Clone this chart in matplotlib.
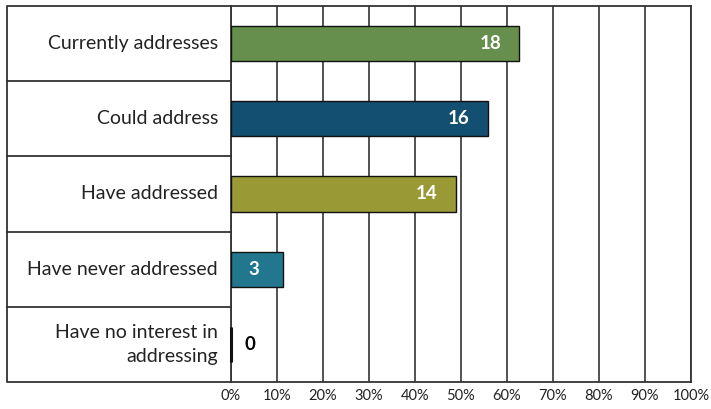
import matplotlib.pyplot as plt
import matplotlib.transforms as mtransforms
import numpy as np

plt.rcParams["font.family"] = ["Lato", "DejaVu Sans"]

categories = [
    "Currently addresses",
    "Could address",
    "Have addressed",
    "Have never addressed",
    "Have no interest in\naddressing",
]
counts = [18, 16, 14, 3, 0]
percents = [62.7, 55.9, 48.9, 11.3, 0.0]
colors = ["#668f4d", "#134f70", "#999a36", "#22778f", "#22778f"]
ticks = np.arange(0, 101, 10)
tick_labels = [f"{t}%" for t in ticks]

LINE = "#333333"
W, H = 711, 409

fig = plt.figure(figsize=(W / 100, H / 100), dpi=100)
ax_left, ax_right = 230.7 / W, 691 / W
ax_top, ax_bottom = 1 - 6 / H, 1 - 382 / H
ax = fig.add_axes([ax_left, ax_bottom, ax_right - ax_left, ax_top - ax_bottom])

y = np.arange(len(categories))
ax.barh(y, percents, height=0.47, color=colors, edgecolor="#111111", linewidth=1.0, zorder=3)

# zero-width bar still gets a visible stub
for yi, p in zip(y, percents):
    if p == 0:
        ax.plot([0, 0], [yi - 0.235, yi + 0.235], color="#111111", lw=2.2, zorder=4,
                solid_capstyle="butt", clip_on=False)

ax.set_xlim(0, 100)
ax.set_ylim(len(categories) - 0.5, -0.5)
ax.set_xticks(ticks)
ax.set_xticklabels(tick_labels, fontsize=10.5, color="#222222")
ax.set_yticks([])
ax.tick_params(axis="x", length=0, pad=5)
ax.grid(True, axis="x", color=LINE, linewidth=1.2, zorder=0)
for s in ax.spines.values():
    s.set_color(LINE)
    s.set_linewidth(1.3)

# label column on the left: outer frame and row separators
left_frac = (7 - 230.7) / 460.3
trans = mtransforms.blended_transform_factory(ax.transAxes, ax.transData)
for b in np.arange(0.5, len(categories) - 0.5, 1.0):
    ax.plot([left_frac, 0], [b, b], color=LINE, lw=1.3, transform=trans, clip_on=False)
ax.plot([0, left_frac, left_frac, 0], [-0.5, -0.5, len(categories) - 0.5, len(categories) - 0.5],
        color=LINE, lw=1.3, transform=trans, clip_on=False)

for yi, cat in zip(y, categories):
    ax.text(-12.7 / 460.3, yi, cat, transform=trans, ha="right", va="center",
            fontsize=14, color="#222222", linespacing=1.45)

for yi, p, c in zip(y, percents, counts):
    if p > 0:
        ax.annotate(str(c), xy=(p, yi), xytext=(-21, 0), textcoords="offset points",
                    ha="center", va="center", fontsize=13.5, fontweight="bold", color="white",
                    zorder=5)
    else:
        ax.annotate(str(c), xy=(p, yi), xytext=(14, 0), textcoords="offset points",
                    ha="center", va="center", fontsize=13.5, fontweight="bold", color="black",
                    zorder=5)

fig.savefig("out.png", dpi=100)
